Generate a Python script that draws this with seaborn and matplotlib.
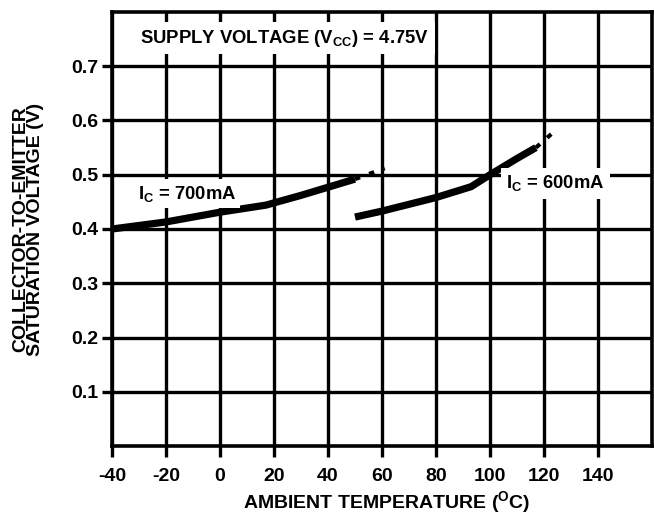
import matplotlib
matplotlib.use('Agg')
import matplotlib.pyplot as plt
import numpy as np
import pandas as pd
import seaborn as sns

temp_700 = [-40, -20, 0, 17, 30, 40, 50]
vsat_700 = [0.400, 0.413, 0.431, 0.444, 0.462, 0.477, 0.492]
temp_700_ext = [50, 61]
vsat_700_ext = [0.492, 0.512]

temp_600 = [50, 60, 80, 93, 100, 110, 117]
vsat_600 = [0.422, 0.433, 0.458, 0.478, 0.500, 0.530, 0.550]
temp_600_ext = [117, 125]
vsat_600_ext = [0.550, 0.585]

x_ticks = [-40, -20, 0, 20, 40, 60, 80, 100, 120, 140]
y_ticks = [0.1, 0.2, 0.3, 0.4, 0.5, 0.6, 0.7]

df = pd.concat([
    pd.DataFrame({'temp': temp_700, 'vsat': vsat_700, 'ic': '700mA'}),
    pd.DataFrame({'temp': temp_600, 'vsat': vsat_600, 'ic': '600mA'}),
], ignore_index=True)
df_ext = pd.concat([
    pd.DataFrame({'temp': temp_700_ext, 'vsat': vsat_700_ext, 'ic': '700mA'}),
    pd.DataFrame({'temp': temp_600_ext, 'vsat': vsat_600_ext, 'ic': '600mA'}),
], ignore_index=True)

sns.set_theme(style='white')
plt.rcParams['font.family'] = ['Liberation Sans', 'DejaVu Sans']
plt.rcParams['font.weight'] = 'bold'
plt.rcParams['mathtext.default'] = 'regular'
plt.rcParams['text.color'] = 'black'
plt.rcParams['axes.labelcolor'] = 'black'
plt.rcParams['xtick.color'] = 'black'
plt.rcParams['ytick.color'] = 'black'

fs = 14
fs_note = 13.3

fig = plt.figure(figsize=(6.54, 5.16), dpi=100)
ax = fig.add_axes([112 / 654, 1 - 446 / 516, 540 / 654, 434 / 516])

sns.lineplot(data=df, x='temp', y='vsat', units='ic', estimator=None, sort=False,
             color='black', linewidth=5.2, solid_capstyle='butt', ax=ax, zorder=4)
sns.lineplot(data=df_ext, x='temp', y='vsat', units='ic', estimator=None, sort=False,
             color='black', linewidth=3, linestyle=(0, (1.3, 2.3)), ax=ax, zorder=4)

ax.set_xlim(-40, 160)
ax.set_ylim(0, 0.8)
ax.set_xticks(x_ticks)
ax.set_yticks(y_ticks)
ax.set_xticklabels([str(t) for t in x_ticks], fontsize=fs, fontweight='bold')
ax.set_yticklabels([f'{t:.1f}' for t in y_ticks], fontsize=fs, fontweight='bold')
ax.grid(True, color='black', linewidth=2.4)
ax.set_axisbelow(True)
ax.tick_params(axis='x', length=8, width=2.4, pad=8, direction='out', bottom=True)
ax.tick_params(axis='y', length=7, width=2.4, pad=3, direction='out', left=True)
for s in ax.spines.values():
    s.set_color('black')
    s.set_linewidth(2.6)

ax.set_xlabel(r'AMBIENT TEMPERATURE ($^{O}$C)', fontsize=fs, fontweight='bold')
ax.xaxis.label.set_ha('left')
ax.xaxis.set_label_coords((243 - 112) / 540, (446 - 489) / 434)
ax.set_ylabel('COLLECTOR-TO-EMITTER\nSATURATION VOLTAGE (V)', fontsize=fs,
              fontweight='bold', linespacing=0.85)
ax.yaxis.set_label_coords((44 - 112) / 540, 0.5)

box = dict(facecolor='white', edgecolor='none', pad=4)
mid_box = dict(facecolor='white', edgecolor='none', pad=3)
ax.text(-29.5, 0.752, r'SUPPLY VOLTAGE (V$_{CC}$) = 4.75V', fontsize=fs_note,
        fontweight='bold', ha='left', va='center', bbox=box, zorder=5)
ax.text(-30.5, 0.465, r'I$_{C}$ = 700mA', fontsize=fs_note, fontweight='bold',
        ha='left', va='center', bbox=mid_box, zorder=5)
ax.text(106, 0.484, r'I$_{C}$ = 600mA', fontsize=fs_note, fontweight='bold',
        ha='left', va='center', bbox=box, zorder=5)

legend = ax.get_legend()
if legend is not None:
    legend.remove()

fig.savefig('out.png', dpi=100)
